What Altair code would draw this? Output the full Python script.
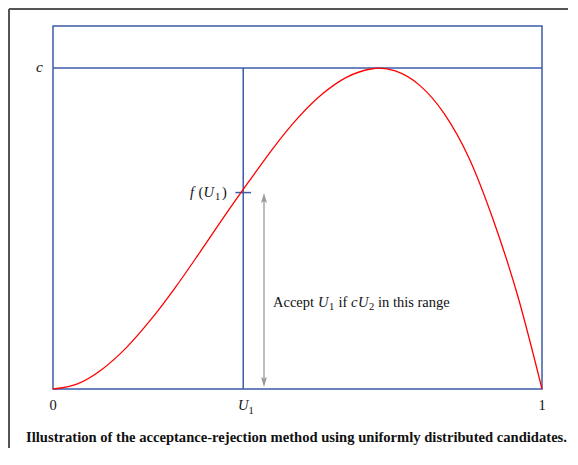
import altair as alt
import pandas as pd

# ---- data ----
curve_x = [0.0, 0.05, 0.10, 0.15, 0.20, 0.25, 0.30, 0.35, 0.40, 0.45, 0.50,
           0.55, 0.60, 0.65, 0.667, 0.70, 0.75, 0.80, 0.85, 0.90, 0.95, 1.0]
curve_y = [0.0, 0.016, 0.061, 0.129, 0.216, 0.316, 0.425, 0.537, 0.645, 0.750, 0.843,
           0.918, 0.971, 0.997, 1.0, 0.991, 0.946, 0.858, 0.722, 0.528, 0.292, 0.0]
C = 1.0            # envelope height c
U1 = 0.389         # candidate U1
F_U1 = 0.612       # f(U1)
Y_TOP = 1.131      # top of the frame
ARROW_X = 0.4315
ARROW_TOP = 0.595
ARROW_BOTTOM = 0.022
TICK_HALF = 0.016

FONT = "Liberation Serif"
BLUE = "#3c5ca8"
INK = "#111111"
W, H = 489, 363

xs = alt.Scale(domain=[0, 1], nice=False, zero=False)
ys = alt.Scale(domain=[0, Y_TOP], nice=False, zero=False)

curve_df = pd.DataFrame({"x": curve_x, "y": curve_y})
one = pd.DataFrame({"a": [0]})

curve = alt.Chart(curve_df).mark_line(color="#ff0000", strokeWidth=1.3, interpolate="monotone").encode(
    x=alt.X("x:Q", scale=xs, axis=None), y=alt.Y("y:Q", scale=ys, axis=None))

c_line = alt.Chart(pd.DataFrame({"x0": [0.0], "x1": [1.0], "y": [C]})).mark_rule(color=BLUE, strokeWidth=1.5).encode(
    x=alt.X("x0:Q", scale=xs, axis=None), x2="x1:Q", y=alt.Y("y:Q", scale=ys, axis=None))

u_line = alt.Chart(pd.DataFrame({"x": [U1], "y0": [0.0], "y1": [C]})).mark_rule(color=BLUE, strokeWidth=1.5).encode(
    x=alt.X("x:Q", scale=xs, axis=None), y=alt.Y("y0:Q", scale=ys, axis=None), y2="y1:Q")

tick = alt.Chart(pd.DataFrame({"x0": [U1 - TICK_HALF], "x1": [U1 + TICK_HALF], "y": [F_U1]})).mark_rule(
    color=BLUE, strokeWidth=1.5).encode(
    x=alt.X("x0:Q", scale=xs, axis=None), x2="x1:Q", y=alt.Y("y:Q", scale=ys, axis=None))

arrow_shaft = alt.Chart(pd.DataFrame({"x": [ARROW_X], "y0": [ARROW_BOTTOM], "y1": [ARROW_TOP]})).mark_rule(
    color="#9a9a9a", strokeWidth=1.3).encode(
    x=alt.X("x:Q", scale=xs, axis=None), y=alt.Y("y0:Q", scale=ys, axis=None), y2="y1:Q")

head_up = alt.Chart(pd.DataFrame({"x": [ARROW_X], "y": [ARROW_TOP]})).mark_point(
    shape="M0,-1L0.6,1L0,0.6L-0.6,1Z", size=100, filled=True, color="#9a9a9a", opacity=1).encode(
    x=alt.X("x:Q", scale=xs, axis=None), y=alt.Y("y:Q", scale=ys, axis=None))
head_down = alt.Chart(pd.DataFrame({"x": [ARROW_X], "y": [ARROW_BOTTOM]})).mark_point(
    shape="M0,1L0.6,-1L0,-0.6L-0.6,-1Z", size=100, filled=True, color="#9a9a9a", opacity=1).encode(
    x=alt.X("x:Q", scale=xs, axis=None), y=alt.Y("y:Q", scale=ys, axis=None))


def txt(s, x, y, size=14.5, italic=False, bold=False, align="left"):
    return alt.Chart(pd.DataFrame({"t": [s]})).mark_text(
        font=FONT, fontSize=size, fontStyle="italic" if italic else "normal",
        fontWeight="bold" if bold else "normal", align=align, baseline="alphabetic",
        color=INK).encode(text="t:N", x=alt.value(x), y=alt.value(y))


texts = [
    # c label
    txt("c", -10, 45.5, size=15.5, italic=True, align="right"),
    # f(U1)
    txt("f", 137, 170.5, italic=True),
    txt("(", 145.5, 170.5),
    txt("U", 150.5, 170.5, italic=True),
    txt("1", 162, 174, size=10.5),
    txt(")", 169, 170.5),
    # annotation
    txt("Accept", 220, 280.5),
    txt("U", 265, 280.5, italic=True),
    txt("1", 276, 284, size=10.5),
    txt("if", 285.5, 280.5),
    txt("c", 298, 280.5, italic=True),
    txt("U", 305, 280.5, italic=True),
    txt("2", 316, 284, size=10.5),
    txt("in this range", 325, 280.5),
    # x labels
    txt("0", 0, 384, align="center"),
    txt("U", 185, 384, italic=True),
    txt("1", 195.5, 387.5, size=10.5),
    txt("1", W, 384, align="center"),
    # caption
    txt("Illustration of the acceptance-rejection method using uniformly distributed candidates.",
        W / 2 - 1, 415.5, size=14.6, bold=True, align="center"),
]

# outer page frame (top and left)
frame_top = alt.Chart(one).mark_rule(color="#555555", strokeWidth=2).encode(
    x=alt.value(-44), x2=alt.value(515), y=alt.value(-17))
frame_left = alt.Chart(one).mark_rule(color="#555555", strokeWidth=2).encode(
    x=alt.value(-44), y=alt.value(-17), y2=alt.value(422))

chart = alt.layer(
    frame_top, frame_left, c_line, u_line, tick, arrow_shaft, head_up, head_down, curve, *texts
).properties(
    width=W, height=H,
    autosize=alt.AutoSizeParams(type="none"),
    padding={"left": 45, "top": 18, "right": 26, "bottom": 59},
    background="white",
).configure_view(stroke=BLUE, strokeWidth=1.5)

chart.save("out.html", embed_options={"renderer": "svg", "actions": False})
